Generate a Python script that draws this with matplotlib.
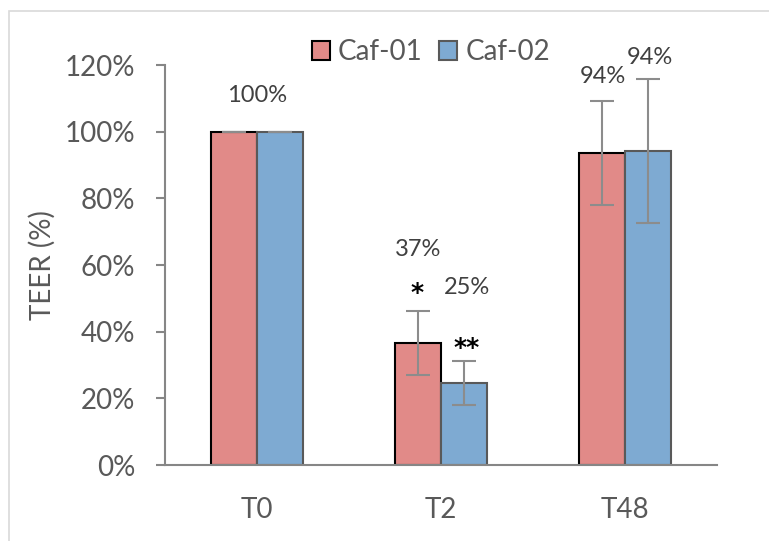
import numpy as np
import matplotlib
from matplotlib import pyplot as plt
from matplotlib.patches import Rectangle

matplotlib.rcParams['font.family'] = ['Lato', 'DejaVu Sans']
matplotlib.rcParams['text.color'] = '#595959'

categories = ['T0', 'T2', 'T48']
series = ['Caf-01', 'Caf-02']
caf01 = [100, 36.6, 93.6]
caf02 = [100, 24.6, 94.2]
caf01_err = [0, 9.6, 15.7]
caf02_err = [0, 6.6, 21.5]
yticks = [0, 20, 40, 60, 80, 100, 120]

# data labels as they were placed by hand in the original sheet
lab_text = ['100%', '37%', '25%', '94%', '94%']
lab_x = [0.0, 0.875, 1.14, 1.88, 2.135]
lab_y = [110.7, 64.5, 53.4, 116.4, 122.1]
star_text = ['*', '**']
star_x = [0.87, 1.14]
star_y = [51.5, 35.0]

red = '#E18A88'
blue = '#7EAAD2'
grey = '#868686'

fig = plt.figure(figsize=(7.69, 5.41), dpi=100)
ax = fig.add_axes([165 / 769, 1 - 465 / 541, 552 / 769, 400 / 541])

x = np.arange(len(categories))
w = 0.25
ax.bar(x - w / 2, caf01, w, color=red, edgecolor='black', linewidth=1.5,
       label=series[0], zorder=2)
ax.bar(x + w / 2, caf02, w, color=blue, edgecolor='#595959', linewidth=1.5,
       label=series[1], zorder=2)
ekw = dict(fmt='none', ecolor='#8C8C8C', elinewidth=1.5, capsize=8.5,
           capthick=1.5, zorder=3)
ax.errorbar(x - w / 2, caf01, yerr=caf01_err, **ekw)
ax.errorbar(x + w / 2, caf02, yerr=caf02_err, **ekw)

for t, xx, yy in zip(lab_text, lab_x, lab_y):
    ax.text(xx, yy, t, ha='center', va='center', fontsize=17,
            color='#404040', clip_on=False)
for t, xx, yy in zip(star_text, star_x, star_y):
    ax.text(xx, yy, t, ha='center', va='center', fontsize=18,
            family='DejaVu Sans', fontweight='bold', color='black',
            clip_on=False)

ax.set_xlim(-0.5, 2.5)
ax.set_ylim(0, 120)
ax.set_yticks(yticks)
ax.set_yticklabels(['%d%%' % v for v in yticks])
ax.set_xticks(x)
ax.set_xticklabels(categories)
ax.tick_params(axis='y', labelsize=20, colors=grey, labelcolor='#595959',
               length=6.5, width=1.5, pad=15)
ax.tick_params(axis='x', labelsize=20, labelcolor='#595959', length=0, pad=23)
ax.set_ylabel('TEER (%)', fontsize=20, color='#595959', labelpad=6)

for s in ['top', 'right']:
    ax.spines[s].set_visible(False)
for s in ['left', 'bottom']:
    ax.spines[s].set_color(grey)
    ax.spines[s].set_linewidth(1.5)

leg = ax.legend(loc='center', bbox_to_anchor=(431 / 769, 1 - 52 / 541),
                bbox_transform=fig.transFigure, ncol=2, frameon=False,
                fontsize=20, handlelength=0.65, handleheight=0.65,
                handletextpad=0.3, columnspacing=0.6, labelcolor='#595959')

# outer chart border (cut off on the right and bottom)
fig.patches.append(Rectangle((9 / 769, -0.1), 1.2, 1.1 - 11 / 541,
                             transform=fig.transFigure, fill=False,
                             edgecolor='#D9D9D9', linewidth=1.2))

fig.savefig('out.png', dpi=100)
